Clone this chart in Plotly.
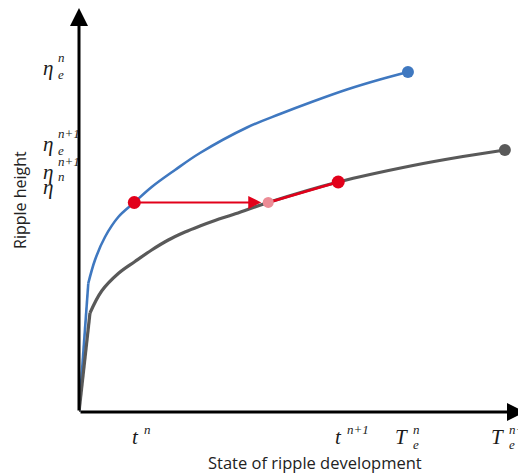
import plotly.graph_objects as go

# ---- data (arbitrary units) ----
blue_x = [0, 2.10, 3.61, 5.87, 8.87, 12.48, 16.41, 21.67, 27.31, 37.92, 45.37, 52.82, 60.50, 67.95, 74.27]
blue_y = [0, 32.18, 38.0, 43.75, 48.75, 52.38, 56.25, 60.5, 64.75, 71.13, 74.5, 77.63, 80.63, 83.13, 85.0]
gray_x = [0, 2.48, 5.12, 8.87, 12.64, 16.41, 20.16, 23.93, 27.31, 30.70, 34.83, 42.73, 58.53, 75.40, 86.68, 96.16]
gray_y = [0, 24.75, 30.25, 34.63, 37.63, 40.5, 43.0, 45.0, 46.5, 47.88, 49.38, 52.38, 57.5, 61.63, 63.88, 65.5]

i_tn = 5      # index of state t^n on the blue curve
i_mid = 11    # index of equivalent state on the gray curve
i_tn1 = 12    # index of state t^(n+1) on the gray curve

x_tick_labels = [("t", "n", ""), ("t", "n+1", ""), ("T", "n", "e"), ("T", "n+1", "e")]
y_tick_labels = [("η", "n", "e"), ("η", "n+1", "e"), ("η", "n+1", ""), ("η", "n", "")]

x_title = "State of ripple development"
y_title = "Ripple height"

BLUE = "#3f78c0"
GRAY = "#595959"
RED = "#e2001a"
PINK = "#ec8c96"
TXT = "#1a1a1a"

fig = go.Figure()


def curve(xs, ys, color, width):
    # steep initial rise drawn straight, the rest smoothed
    fig.add_trace(go.Scatter(x=xs[:2], y=ys[:2], mode="lines",
                             line=dict(color=color, width=width),
                             hoverinfo="skip", showlegend=False))
    fig.add_trace(go.Scatter(x=xs[1:], y=ys[1:], mode="lines",
                             line=dict(color=color, width=width, shape="spline", smoothing=1.0),
                             hoverinfo="skip", showlegend=False))


curve(blue_x, blue_y, BLUE, 2.6)
curve(gray_x, gray_y, GRAY, 3.2)
fig.add_trace(go.Scatter(x=gray_x[i_mid:i_tn1 + 1], y=gray_y[i_mid:i_tn1 + 1], mode="lines",
                         line=dict(color=RED, width=2.8), hoverinfo="skip", showlegend=False))
fig.add_trace(go.Scatter(x=[blue_x[-1]], y=[blue_y[-1]], mode="markers",
                         marker=dict(color=BLUE, size=12), showlegend=False, cliponaxis=False))
fig.add_trace(go.Scatter(x=[gray_x[-1]], y=[gray_y[-1]], mode="markers",
                         marker=dict(color=GRAY, size=12), showlegend=False, cliponaxis=False))
fig.add_trace(go.Scatter(x=[gray_x[i_mid]], y=[gray_y[i_mid]], mode="markers",
                         marker=dict(color=PINK, size=11), showlegend=False))
fig.add_trace(go.Scatter(x=[blue_x[i_tn], gray_x[i_tn1]], y=[blue_y[i_tn], gray_y[i_tn1]],
                         mode="markers", marker=dict(color=RED, size=13), showlegend=False))

annotations = []
# horizontal red arrow
annotations.append(dict(x=gray_x[i_mid], y=gray_y[i_mid], ax=blue_x[i_tn], ay=blue_y[i_tn],
                        xref="x", yref="y", axref="x", ayref="y", text="", showarrow=True,
                        arrowhead=2, arrowsize=1.3, arrowwidth=2, arrowcolor=RED, standoff=7))
# axes with arrows
XMAX, YMAX = 100.7, 101
annotations.append(dict(x=XMAX, y=0, ax=0, ay=0, xref="x", yref="y", axref="x", ayref="y",
                        text="", showarrow=True, arrowhead=2, arrowsize=1.2, arrowwidth=3,
                        arrowcolor="black", standoff=0))
annotations.append(dict(x=0, y=YMAX, ax=0, ay=0, xref="x", yref="y", axref="x", ayref="y",
                        text="", showarrow=True, arrowhead=2, arrowsize=1.2, arrowwidth=3,
                        arrowcolor="black", standoff=0))

SERIF = "Liberation Serif"
BASE_SIZE = 21
SCRIPT_SIZE = 13


def math_label(x, y, xref, yref, base, sup, sub, xshift, yshift, sup_dy=11, sub_dy=-6):
    annotations.append(dict(x=x, y=y, xref=xref, yref=yref, text="<i>%s</i>" % base,
                            showarrow=False, xanchor="right", yanchor="middle",
                            xshift=xshift, yshift=yshift,
                            font=dict(family=SERIF, size=BASE_SIZE, color=TXT)))
    if sup:
        annotations.append(dict(x=x, y=y, xref=xref, yref=yref, text="<i>%s</i>" % sup,
                                showarrow=False, xanchor="left", yanchor="middle",
                                xshift=xshift + 1, yshift=yshift + sup_dy,
                                font=dict(family=SERIF, size=SCRIPT_SIZE, color=TXT)))
    if sub:
        annotations.append(dict(x=x, y=y, xref=xref, yref=yref, text="<i>%s</i>" % sub,
                                showarrow=False, xanchor="left", yanchor="middle",
                                xshift=xshift + 1, yshift=yshift + sub_dy,
                                font=dict(family=SERIF, size=SCRIPT_SIZE, color=TXT)))


x_ticks = [blue_x[i_tn], gray_x[i_tn1], blue_x[-1], gray_x[-1]]
x_shifts = [7, 6, 2, 1]
for xv, (b, sp, sb), xs in zip(x_ticks, x_tick_labels, x_shifts):
    math_label(xv, 0, "x", "y", b, sp, sb, xs, -25, sup_dy=8, sub_dy=-7)

y_ticks = [blue_y[-1], gray_y[-1], gray_y[i_tn1], gray_y[i_mid]]
y_shifts = [4, 6, 10, 15]
for yv, (b, sp, sb), ys in zip(y_ticks, y_tick_labels, y_shifts):
    math_label(0, yv, "paper", "y", b, sp, sb, -24, ys)

annotations.append(dict(x=-0.1323, y=0.5248, xref="paper", yref="paper", text=y_title,
                        textangle=-90, showarrow=False, xanchor="center", yanchor="middle",
                        font=dict(family="Open Sans", size=16, color="#222")))
annotations.append(dict(x=0.529, y=-0.1238, xref="paper", yref="paper", text=x_title,
                        showarrow=False, xanchor="center", yanchor="middle",
                        font=dict(family="Open Sans", size=16.5, color="#222")))

# the page body has an 8px margin: the figure is sized so that it fills the window
fig.update_layout(
    width=518, height=466,
    margin=dict(l=71, r=1, t=0, b=62),
    paper_bgcolor="white", plot_bgcolor="white",
    xaxis=dict(range=[0, XMAX], visible=False, fixedrange=True),
    yaxis=dict(range=[0, YMAX], visible=False, fixedrange=True),
    annotations=annotations,
    showlegend=False,
)

fig.write_html("out.html")
